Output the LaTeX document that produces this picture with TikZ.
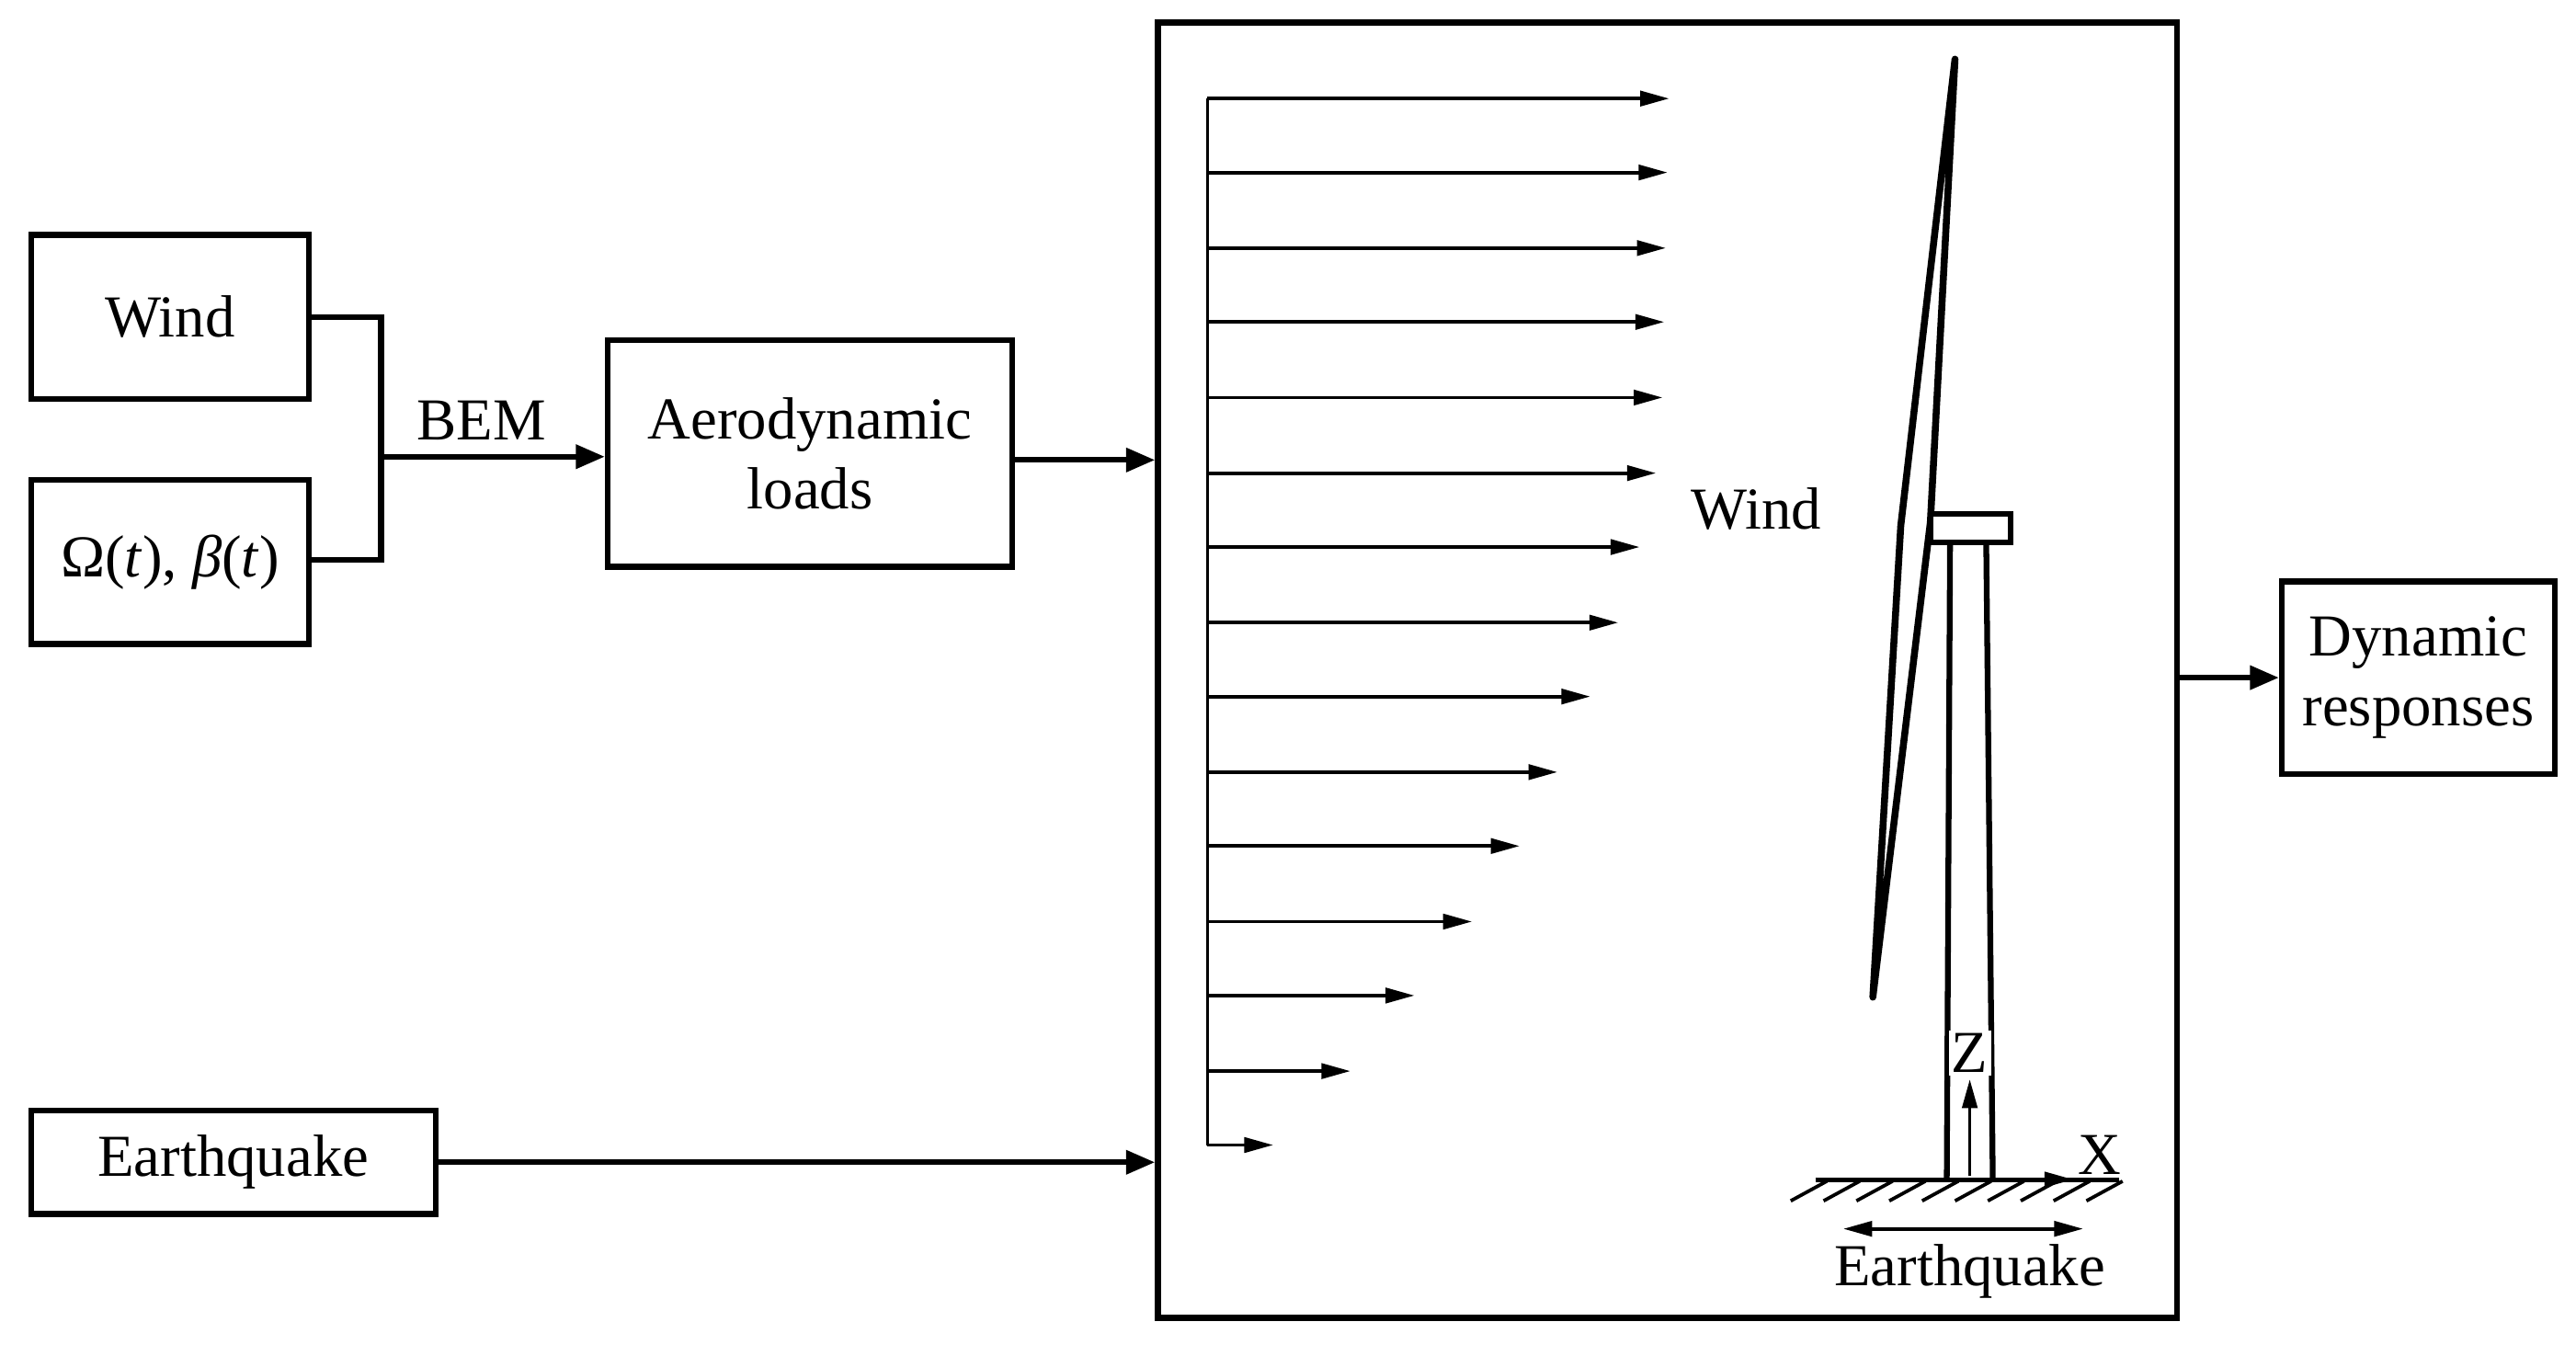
\documentclass[tikz,border=0pt]{standalone}
\usepackage{fontspec}
\setmainfont{Liberation Serif}
\usetikzlibrary{arrows.meta}
\begin{document}
\begin{tikzpicture}[x=0.01cm,y=-0.01cm,
  box/.style={draw,line width=1pt,inner sep=0pt,align=center,font=\fontsize{10.3}{12}\selectfont},
  con/.style={line width=1pt,-{Triangle[length=5pt,width=4pt]}},
  wa/.style={line width=0.6pt,-{Triangle[length=5pt,width=2.6pt]}},
  lab/.style={font=\fontsize{10.3}{12}\selectfont,inner sep=0pt}]
\useasboundingbox (0,0) rectangle (1568,825);
\node[box,minimum width=1.69cm,minimum height=1cm] (wind) at (103.5,193) {Wind};
\node[box,minimum width=1.69cm,minimum height=1cm] (om) at (103.5,342) {Ω(\textit{t}), \textit{β}(\textit{t})};
\node[box,minimum width=2.46cm,minimum height=0.63cm] (eq) at (142,707.5) {Earthquake};
\node[box,minimum width=2.46cm,minimum height=1.38cm] (aero) at (493,276) {Aerodynamic\\loads};
\node[box,minimum width=6.2cm,minimum height=7.88cm] (big) at (1015,408) {};
\node[box,minimum width=1.66cm,minimum height=1.17cm] (dyn) at (1472,412.5) {Dynamic\\responses};
\coordinate (j) at (232,278);
\draw[line width=1pt] (wind.east) -| (232,341) -- (om.east |- 0,341);
\draw[con] (j) -- (aero.west |- j);
\node[lab] (bem) at (293,256) {BEM};
\draw[con] (aero.east |- 0,280) -- (big.west |- 0,280);
\draw[con] (eq.east) -- (big.west |- eq.east);
\draw[con] (big.east |- dyn.west) -- (dyn.west);
% wind profile
\draw[line width=0.6pt] (735,60) -- (735,697);
\foreach \y/\x in {60/1016,105/1015,151/1014,196/1013,242/1012,288/1008,333/998,379/985,424/968,470/948,515/925,561/896,606/861,652/822,697/775}
  \draw[wa] (735,\y) -- (\x,\y);
\node[lab] (wl) at (1069,310) {Wind};
% turbine
\draw[line width=1.2pt,line join=round] (1190,36) -- (1157,320) -- (1140,607) -- (1175,318) -- cycle;
\draw[line width=0.9pt,fill=white] (1175,313) rectangle (1224,330);
\draw[line width=1pt] (1187,330) -- (1185,718) (1209,330) -- (1213,718);
\draw[line width=0.8pt] (1105,718) -- (1290,718);
\foreach \x in {1090,1110,...,1270} \draw[line width=0.6pt] (\x,731) -- (\x+22,719);
\draw[wa] (1199,718) -- (1262,718);
\node[lab] (xl) at (1278,703) {X};
\draw[wa] (1199,716) -- (1199,657);
\node[lab,fill=white,inner sep=0.5pt] (zl) at (1199,641) {Z};
\draw[line width=0.6pt,{Triangle[length=5pt,width=2.6pt]}-{Triangle[length=5pt,width=2.6pt]}] (1122,748) -- (1268,748);
\node[lab] (el) at (1199,774) {Earthquake};
\end{tikzpicture}
\end{document}
